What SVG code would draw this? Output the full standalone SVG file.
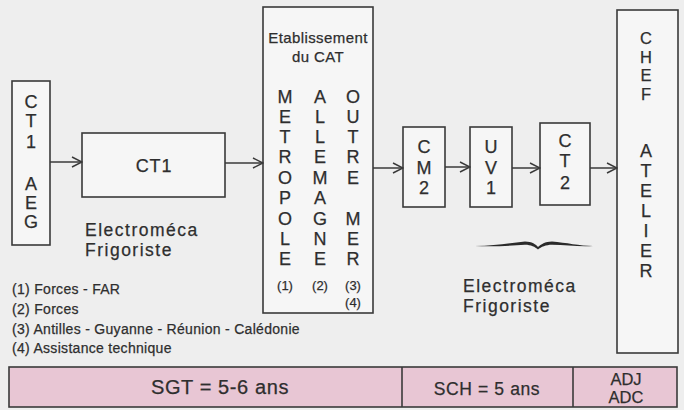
<svg xmlns="http://www.w3.org/2000/svg" width="684" height="410" viewBox="0 0 684 410">
<style>
.box{fill:#f6f6f6;stroke:#3a3a3a;stroke-width:1.6}
.band{fill:#e8c6d4;stroke:#3a3a3a;stroke-width:1.6}
.t{font-family:"Liberation Sans",Arial,sans-serif;fill:#2e2e2e;stroke:#2e2e2e;stroke-width:0.25}
.v{font-size:18px;text-anchor:middle}
.c{text-anchor:middle}
.conn{stroke:#3a3a3a;stroke-width:1.5;fill:none;marker-end:url(#ah)}
.fn{font-size:14px;letter-spacing:0.3px}
.ef{font-size:17.5px;letter-spacing:1.5px}
</style>
<defs>
<marker id="ah" viewBox="0 0 12 12" refX="11" refY="6" markerWidth="12" markerHeight="12" markerUnits="userSpaceOnUse" orient="auto">
<path d="M1,1 L11,6 L1,11" fill="none" stroke="#3a3a3a" stroke-width="1.5"/>
</marker>
</defs>
<rect x="0" y="0" width="684" height="410" fill="#eeeeee"/>

<g id="ct1aeg">
<rect class="box" x="12" y="81" width="38" height="164"/>
<g class="t v">
<text x="31" y="108">C</text>
<text x="31" y="127">T</text>
<text x="31" y="148">1</text>
<text x="31" y="190">A</text>
<text x="31" y="209">E</text>
<text x="31" y="228">G</text>
</g>
</g>

<g id="ct1">
<rect class="box" x="82" y="133" width="143" height="64"/>
<text class="t c" x="154" y="172" font-size="18" letter-spacing="0.8">CT1</text>
</g>

<g id="label-left">
<text class="t ef" x="85" y="236">Electroméca</text>
<text class="t ef" x="85" y="256">Frigoriste</text>
</g>

<g id="etablissement">
<rect class="box" x="263" y="7" width="110" height="306"/>
<text class="t c" x="318" y="43" font-size="15" letter-spacing="0.4">Etablissement</text>
<text class="t c" x="318" y="62" font-size="15" letter-spacing="0.4">du CAT</text>
<g class="t v">
<text x="285" y="103">M</text>
<text x="285" y="123">E</text>
<text x="285" y="143">T</text>
<text x="285" y="163">R</text>
<text x="285" y="184">O</text>
<text x="285" y="204">P</text>
<text x="285" y="225">O</text>
<text x="285" y="245">L</text>
<text x="285" y="265">E</text>
<text x="320" y="103">A</text>
<text x="320" y="123">L</text>
<text x="320" y="143">L</text>
<text x="320" y="163">E</text>
<text x="320" y="184">M</text>
<text x="320" y="204">A</text>
<text x="320" y="225">G</text>
<text x="320" y="245">N</text>
<text x="320" y="265">E</text>
<text x="353" y="103">O</text>
<text x="353" y="123">U</text>
<text x="353" y="143">T</text>
<text x="353" y="163">R</text>
<text x="353" y="184">E</text>
<text x="353" y="225">M</text>
<text x="353" y="245">E</text>
<text x="353" y="265">R</text>
</g>
<g class="t c" font-size="13">
<text x="285" y="290">(1)</text>
<text x="320" y="290">(2)</text>
<text x="353" y="290">(3)</text>
<text x="353" y="307">(4)</text>
</g>
</g>

<g id="cm2">
<rect class="box" x="403" y="127" width="42" height="80"/>
<g class="t v" font-size="17">
<text x="424" y="153">C</text>
<text x="424" y="174">M</text>
<text x="424" y="194">2</text>
</g>
</g>

<g id="uv1">
<rect class="box" x="470" y="127" width="42" height="80"/>
<g class="t v" font-size="17">
<text x="491" y="153">U</text>
<text x="491" y="174">V</text>
<text x="491" y="194">1</text>
</g>
</g>

<g id="ct2">
<rect class="box" x="540" y="123" width="50" height="82"/>
<g class="t v" font-size="17">
<text x="565" y="147">C</text>
<text x="565" y="167">T</text>
<text x="565" y="189">2</text>
</g>
</g>

<g id="chef">
<rect class="box" x="617" y="10" width="61" height="343"/>
<g class="t c" font-size="16.5">
<text x="646" y="44">C</text>
<text x="646" y="62.5">H</text>
<text x="646" y="81">E</text>
<text x="646" y="99.5">F</text>
</g>
<g class="t v">
<text x="646" y="157">A</text>
<text x="646" y="177">T</text>
<text x="646" y="197">E</text>
<text x="646" y="217">L</text>
<text x="646" y="237">I</text>
<text x="646" y="257">E</text>
<text x="646" y="277">R</text>
</g>
</g>

<g id="brace">
<path d="M475,246 C495,246 510,243 525,241.5 C532,241.5 536,244.5 538,247 C541,244.5 545,241.5 552,241.5 C566,242.5 580,246 593,246 C580,247 566,245 552,244.8 C546,244.8 541,247 538,249.5 C535,247 531,244.8 525,244.8 C510,245.5 495,247 475,246 Z" fill="#2a2a2a"/>
</g>

<g id="label-right">
<text class="t ef" x="463" y="292">Electroméca</text>
<text class="t ef" x="463" y="312">Frigoriste</text>
</g>

<g id="notes">
<text class="t fn" x="12" y="294">(1) Forces - FAR</text>
<text class="t fn" x="12" y="314">(2) Forces</text>
<text class="t fn" x="12" y="334">(3) Antilles - Guyanne - Réunion - Calédonie</text>
<text class="t fn" x="12" y="353">(4) Assistance technique</text>
</g>

<g id="band">
<rect class="band" x="9" y="367" width="668" height="40"/>
<line x1="402" y1="367" x2="402" y2="407" stroke="#3a3a3a" stroke-width="1.6"/>
<line x1="573" y1="367" x2="573" y2="407" stroke="#3a3a3a" stroke-width="1.6"/>
<text class="t c" x="220" y="394" font-size="20" letter-spacing="0.6">SGT = 5-6 ans</text>
<text class="t c" x="487" y="395" font-size="17.5" letter-spacing="0.6">SCH = 5 ans</text>
<text class="t c" x="626" y="385" font-size="16.5">ADJ</text>
<text class="t c" x="626" y="403" font-size="16.5">ADC</text>
</g>

<g id="connectors">
<line class="conn" x1="50" y1="162" x2="82" y2="162"/>
<line class="conn" x1="225" y1="163" x2="263" y2="163"/>
<line class="conn" x1="373" y1="168" x2="403" y2="168"/>
<line class="conn" x1="445" y1="167" x2="470" y2="167"/>
<line class="conn" x1="512" y1="168" x2="540" y2="168"/>
<line class="conn" x1="590" y1="168" x2="617" y2="168"/>
</g>
</svg>
